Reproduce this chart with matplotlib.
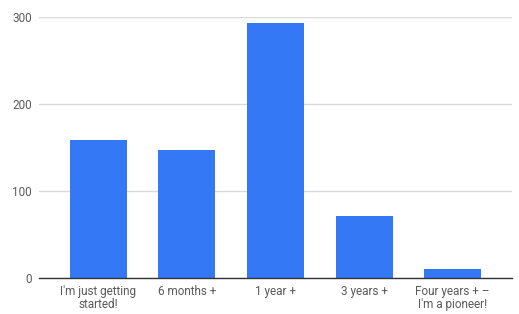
import matplotlib
matplotlib.use("Agg")
import matplotlib.pyplot as plt

categories = ["I'm just getting\nstarted!", "6 months +", "1 year +", "3 years +",
              "Four years + \u2013\nI'm a pioneer!"]
values = [159, 147, 293, 71, 10]
yticks = [0, 100, 200, 300]

plt.rcParams['font.family'] = ['Roboto', 'DejaVu Sans']

fig = plt.figure(figsize=(5.19, 3.14), dpi=100)
ax = fig.add_axes([39 / 519, 1 - 278 / 314, (512 - 39) / 519, (278 - 17) / 314])

x = list(range(len(categories)))
ax.bar(x, values, width=0.644, color='#3478F6', zorder=3)

ax.set_xlim(-0.672, len(categories) - 1 + 0.672)
ax.set_ylim(0, 300)
ax.set_yticks(yticks)
ax.set_yticklabels([str(t) for t in yticks])
ax.set_xticks(x)
ax.set_xticklabels(categories, linespacing=1.0)

ax.grid(axis='y', color='#d9d9d9', linewidth=1, zorder=0)
ax.set_axisbelow(True)
for side in ['top', 'right', 'left']:
    ax.spines[side].set_visible(False)
ax.spines['bottom'].set_color('#333333')
ax.spines['bottom'].set_linewidth(1)
ax.spines['bottom'].set_zorder(4)

ax.tick_params(axis='both', length=0, labelsize=8.5, labelcolor='#5a5a5a')
ax.tick_params(axis='y', pad=5)
ax.tick_params(axis='x', pad=5)

fig.savefig('out.png', dpi=100)
